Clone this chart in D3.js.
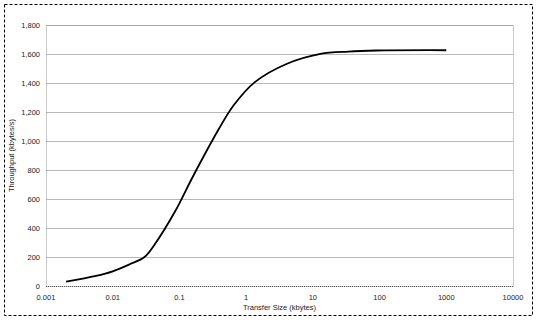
<!DOCTYPE html>
<html>
<head>
<meta charset="utf-8">
<script src="https://cdn.jsdelivr.net/npm/d3@7"></script>
<style>
  body { margin: 0; background: #fff; }
  svg text { font-family: "Liberation Sans", Arial, sans-serif; }
</style>
</head>
<body>
<div id="chart"></div>
<script>
// transfer size (kbytes) and throughput (kbytes/s)
const sizes = [0.002, 0.0056, 0.01, 0.018, 0.03, 0.043, 0.085, 0.158,
  0.38, 0.65, 1.35, 4.1, 13, 34, 90, 1000];
const throughput = [30, 69, 101, 150, 200, 290, 510, 752,
  1074, 1246, 1406, 1533, 1601, 1617, 1624, 1626];
const xTicks = [0.001, 0.01, 0.1, 1, 10, 100, 1000, 10000];
const yTicks = [0, 200, 400, 600, 800, 1000, 1200, 1400, 1600, 1800];

const width = 540, height = 322;
const margin = {top: 25, right: 27, bottom: 36, left: 46};
const innerW = width - margin.left - margin.right;
const innerH = height - margin.top - margin.bottom;

const svg = d3.select("#chart")
  .append("svg")
    .attr("width", width)
    .attr("height", height);

// outer dashed frame
svg.append("rect")
  .attr("x", 4.5).attr("y", 4.5)
  .attr("width", 528).attr("height", 311)
  .attr("fill", "none")
  .attr("stroke", "#000")
  .attr("stroke-dasharray", "3,2");

const g = svg.append("g")
  .attr("transform", "translate(" + margin.left + "," + margin.top + ")");

const x = d3.scaleLog()
  .domain([0.001, 10000])
  .range([0, innerW]);

const y = d3.scaleLinear()
  .domain([0, 1800])
  .range([innerH, 0]);

// gridlines
g.append("g")
  .selectAll("line")
  .data(yTicks.filter(d => d > 0))
  .enter()
  .append("line")
    .attr("x1", 0).attr("x2", innerW)
    .attr("y1", d => Math.round(y(d)) + 0.5)
    .attr("y2", d => Math.round(y(d)) + 0.5)
    .attr("stroke", "#b8b8b8")
    .attr("stroke-width", 1);

// plot area border
g.append("rect")
  .attr("x", 0.5).attr("y", 0.5)
  .attr("width", innerW).attr("height", innerH)
  .attr("fill", "none")
  .attr("stroke", "#999")
  .attr("stroke-dasharray", "1,1");

// bottom axis line
g.append("line")
  .attr("x1", 0).attr("x2", innerW)
  .attr("y1", innerH + 0.5).attr("y2", innerH + 0.5)
  .attr("stroke", "#555")
  .attr("stroke-dasharray", "1,1");

// y axis labels
const fmt = d3.format(",");
g.append("g")
  .selectAll("text")
  .data(yTicks)
  .enter()
  .append("text")
    .attr("x", -6)
    .attr("y", d => y(d) + 3)
    .attr("text-anchor", "end")
    .attr("font-size", "7.5px")
    .attr("fill", "#222")
    .text(d => fmt(d));

// x axis labels
g.append("g")
  .selectAll("text")
  .data(xTicks)
  .enter()
  .append("text")
    .attr("x", d => x(d))
    .attr("y", innerH + 14)
    .attr("text-anchor", "middle")
    .attr("font-size", "7.5px")
    .attr("fill", "#222")
    .text(d => String(d));

// axis titles
svg.append("text")
  .attr("x", margin.left + innerW / 2)
  .attr("y", 310)
  .attr("text-anchor", "middle")
  .attr("font-size", "7.5px")
  .attr("fill", "#222")
  .text("Transfer Size (kbytes)");

svg.append("text")
  .attr("transform", "translate(14," + (margin.top + innerH / 2) + ") rotate(-90)")
  .attr("text-anchor", "middle")
  .attr("font-size", "7.5px")
  .attr("fill", "#222")
  .text("Throughput (kbytes/s)");

// the curve
const data = sizes.map((s, i) => ({size: s, value: throughput[i]}));
const line = d3.line()
  .x(d => x(d.size))
  .y(d => y(d.value))
  .curve(d3.curveCatmullRom.alpha(0.5));

g.append("path")
  .datum(data)
  .attr("fill", "none")
  .attr("stroke", "#000")
  .attr("stroke-width", 1.8)
  .attr("d", line);
</script>
</body>
</html>
